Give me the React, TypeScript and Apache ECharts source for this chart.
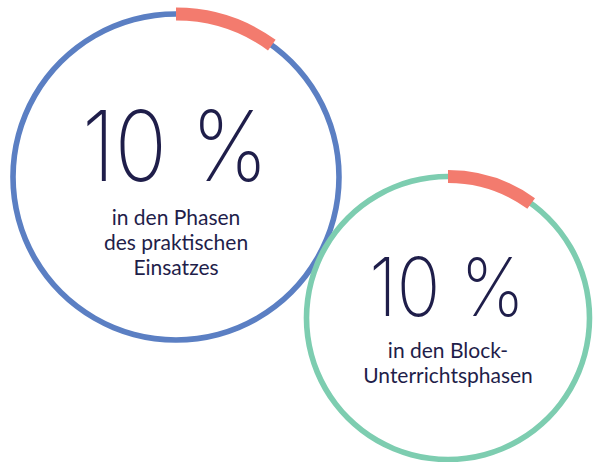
import React, { useEffect, useRef } from "react";
import * as echarts from "echarts";

// Shares (percent) highlighted on each ring
const shares = [10, 10];
const valueLabels = ["10 %", "10 %"];
const captions = [
  ["in den Phasen", "des praktischen", "Einsatzes"],
  ["in den Block-", "Unterrichtsphasen"],
];
const ringColors = ["#5b7fc3", "#7dcdb0"];
const accentColor = "#f37b6e";
const textColor = "#1f1e4a";

// Geometry (pixels) of each ring
const centers: [number, number][] = [
  [176, 177],
  [448, 318],
];
const radii = [163, 141.5];

export default function App() {
  const ref = useRef<HTMLDivElement>(null);
  useEffect(() => {
    if (!ref.current) return;
    const chart = echarts.init(ref.current, null, { renderer: "svg" });
    const series: any[] = [];
    const graphic: any[] = [];
    shares.forEach((share, i) => {
      const r = radii[i];
      const c = centers[i];
      series.push({
        type: "pie",
        center: c,
        radius: [r - 2.8, r + 2.8],
        startAngle: 90,
        clockwise: true,
        silent: true,
        label: { show: false },
        labelLine: { show: false },
        emphasis: { disabled: true },
        data: [{ value: 100, itemStyle: { color: ringColors[i] } }],
      });
      series.push({
        type: "pie",
        center: c,
        radius: [r - 6.5, r + 6.5],
        startAngle: 90,
        clockwise: true,
        silent: true,
        label: { show: false },
        labelLine: { show: false },
        emphasis: { disabled: true },
        data: [
          { value: share, itemStyle: { color: accentColor } },
          { value: 100 - share, itemStyle: { color: "rgba(0,0,0,0)" } },
        ],
      });
    });
    const bigSizes = [97, 81];
    const bigY = [146, 286];
    const capY = [241, 362];
    shares.forEach((_, i) => {
      graphic.push({
        type: "text",
        x: centers[i][0] - 1,
        y: bigY[i],
        scaleX: 0.89,
        style: {
          text: valueLabels[i],
          fontFamily: "Inter",
          fontWeight: 200,
          fontSize: bigSizes[i],
          fill: textColor,
          textAlign: "center",
          textVerticalAlign: "middle",
        },
      });
      graphic.push({
        type: "text",
        x: centers[i][0],
        y: capY[i],
        style: {
          text: captions[i].join("\n"),
          fontFamily: "Lato",
          fontSize: 21,
          lineHeight: 25,
          fill: textColor,
          textAlign: "center",
          textVerticalAlign: "middle",
        },
      });
    });
    chart.setOption({
      animation: false,
      backgroundColor: "#ffffff",
      series,
      graphic,
    });
    return () => chart.dispose();
  }, []);
  return (
    <div
      ref={ref}
      style={{ position: "fixed", left: 0, top: 0, width: 598, height: 462 }}
    />
  );
}
